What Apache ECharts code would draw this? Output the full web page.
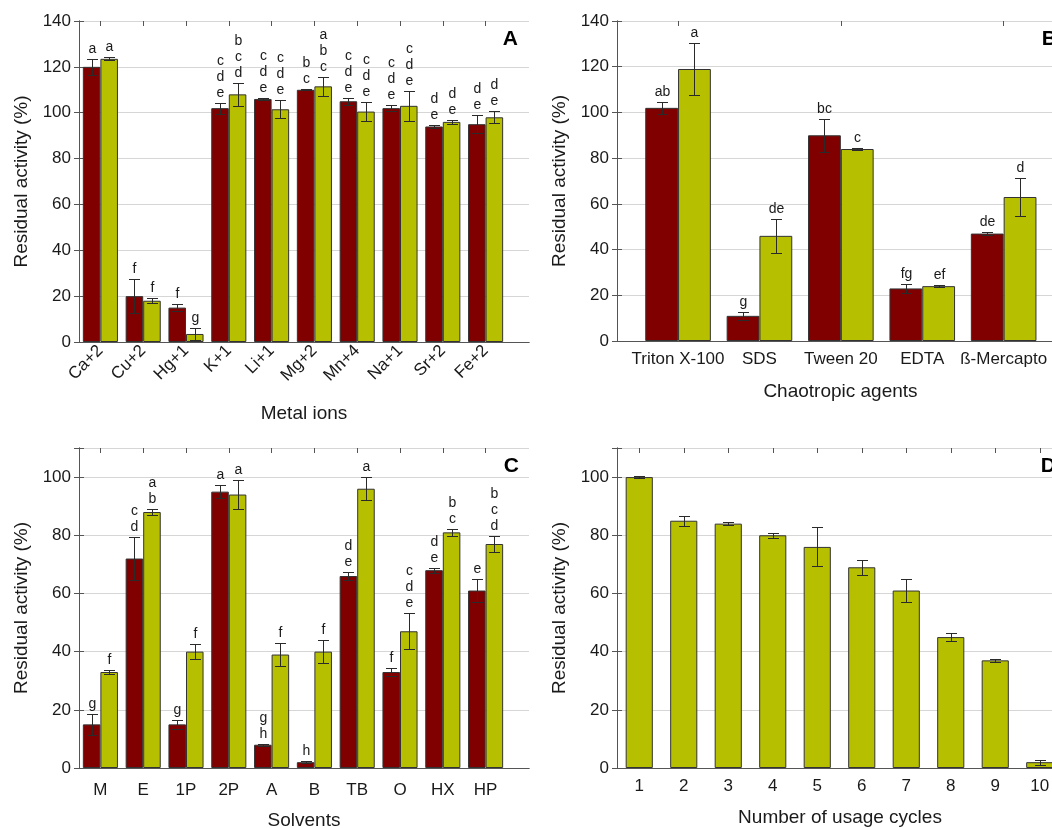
<!DOCTYPE html>
<html>
<head>
<meta charset="utf-8">
<script src="https://cdn.jsdelivr.net/npm/echarts@6/dist/echarts.min.js"></script>
<style>
html,body{margin:0;padding:0;background:#fff;}
#chart{width:1052px;height:828px;}
</style>
</head>
<body>
<div id="chart"></div>
<script>
// ---------- DATA ----------
var metalIons = ['Ca+2','Cu+2','Hg+1','K+1','Li+1','Mg+2','Mn+4','Na+1','Sr+2','Fe+2'];
var metalFree = [120, 20, 15, 102, 106, 110, 105, 102, 94, 95];
var metalFreeErr = [3.5, 7.5, 1.5, 2.4, 0.4, 0.3, 1.6, 1.3, 0.8, 3.9];
var metalFreeLetters = ['a','f','f','c\nd\ne','c\nd\ne','b\nc','c\nd\ne','c\nd\ne','d\ne','d\ne'];
var metalImm = [123.5, 18, 3.5, 108, 101.5, 111.5, 100.5, 103, 96, 98];
var metalImmErr = [0.6, 1, 2.7, 5, 4, 4.2, 4, 6.4, 1, 2.7];
var metalImmLetters = ['a','f','g','b\nc\nd','c\nd\ne','a\nb\nc','c\nd\ne','c\nd\ne','d\ne','d\ne'];

var agents = ['Triton X-100','SDS','Tween 20','EDTA','ß-Mercapto'];
var agentFree = [102, 11, 90, 23, 47];
var agentFreeErr = [2.5, 1.7, 7.3, 1.8, 0.8];
var agentFreeLetters = ['ab','g','bc','fg','de'];
var agentImm = [119, 46, 84, 24, 63];
var agentImmErr = [11.5, 7.3, 0.3, 0.3, 8.2];
var agentImmLetters = ['a','de','c','ef','d'];

var solvents = ['M','E','1P','2P','A','B','TB','O','HX','HP'];
var solvFree = [15, 72, 15, 95, 8, 2, 66, 33, 68, 61];
var solvFreeErr = [3.5, 7.5, 1.5, 2.2, 0.3, 0.3, 1.4, 1.3, 0.8, 4];
var solvFreeLetters = ['g','c\nd','g','a','g\nh','h','d\ne','f','d\ne','e'];
var solvImm = [33, 88, 40, 94, 39, 40, 96, 47, 81, 77];
var solvImmErr = [0.7, 1, 2.6, 5, 3.8, 4, 4, 6.2, 1.2, 2.7];
var solvImmLetters = ['f','a\nb','f','a','f','f','a','c\nd\ne','b\nc','b\nc\nd'];

var cycles = ['1','2','3','4','5','6','7','8','9','10'];
var cycleVals = [100, 85, 84, 80, 76, 69, 61, 45, 37, 2];
var cycleErr = [0.3, 1.7, 0.6, 0.8, 6.7, 2.5, 3.8, 1.5, 0.4, 0.8];

// ---------- STYLE ----------
var RED = '#800000', GREEN = '#b7c000';
var FONT = '"Liberation Sans", Arial, sans-serif';
var TXT = '#1a1a1a';
var FRAME = '#555';

var panels = [
  {frame:{left:79, top:21, width:450, height:321}, data:{left:79, width:428},
   cats: metalIons, ymax:140, rotate:45, labelMargin:6, xname:'Metal ions', xnameGap:62, gap:0.18,
   series:[[metalFree, metalFreeErr, metalFreeLetters],[metalImm, metalImmErr, metalImmLetters]], tag:'A', tagInset:11},
  {frame:{left:617, top:21, width:447, height:320}, data:{left:637.35, width:407},
   cats: agents, ymax:140, rotate:0, labelMargin:10, xname:'Chaotropic agents', xnameGap:41, gap:0.194,
   series:[[agentFree, agentFreeErr, agentFreeLetters],[agentImm, agentImmErr, agentImmLetters]], tag:'B', tagInset:7},
  {frame:{left:79, top:448, width:450, height:320}, data:{left:79, width:428},
   cats: solvents, ymax:110, rotate:0, labelMargin:14, xname:'Solvents', xnameGap:43, gap:0.18,
   series:[[solvFree, solvFreeErr, solvFreeLetters],[solvImm, solvImmErr, solvImmLetters]], tag:'C', tagInset:10},
  {frame:{left:617, top:448, width:446, height:320}, data:{left:617, width:445},
   cats: cycles, ymax:110, rotate:0, labelMargin:10, xname:'Number of usage cycles', xnameGap:40, gap:0.39,
   series:[[cycleVals, cycleErr, null]], tag:'D', single:true, tagInset:7}
];

function errRender(errs, letters, side, gap) {
  return function (params, api) {
    var i = params.dataIndex;
    var x = api.value(0), v = api.value(1);
    var e = errs[i];
    var band = api.size([1, 0])[0];
    var bw = band * (1 - gap) / (side === 0 ? 1 : 2);
    var dx = side * bw / 2;
    var t = api.coord([x, v + e]);
    var b = api.coord([x, v - e]);
    var cx = Math.round(t[0] + dx) + 0.5;
    var ty = Math.round(t[1]) + 0.5, by = Math.round(b[1]) + 0.5;
    var cap = 5.5;
    var st = {stroke: '#2a2a2a', lineWidth: 1};
    var ch = [
      {type:'line', shape:{x1:cx, y1:ty, x2:cx, y2:by}, style:st},
      {type:'line', shape:{x1:cx-cap, y1:ty, x2:cx+cap, y2:ty}, style:st},
      {type:'line', shape:{x1:cx-cap, y1:by, x2:cx+cap, y2:by}, style:st}
    ];
    if (letters) {
      ch.push({type:'text', style:{text:letters[i], x:cx, y:ty-2, align:'center', verticalAlign:'bottom',
        fontSize:14, lineHeight:16, fontFamily:FONT, fill:TXT}});
    }
    return {type:'group', children: ch};
  };
}

var grid = [], xAxis = [], yAxis = [], series = [], graphic = [];
panels.forEach(function (p, k) {
  var fg = grid.length;
  grid.push({left:p.frame.left, top:p.frame.top, width:p.frame.width, height:p.frame.height,
    containLabel:false, outerBoundsMode:'none'});
  var dg = grid.length;
  grid.push({left:p.data.left, top:p.frame.top, width:p.data.width, height:p.frame.height,
    containLabel:false, outerBoundsMode:'none'});
  var lineStyle = {color: FRAME, width: 1};
  // frame axes
  xAxis.push({type:'value', gridIndex:fg, min:0, max:1, position:'bottom',
    axisLine:{show:true, lineStyle:lineStyle}, axisTick:{show:false}, axisLabel:{show:false}, splitLine:{show:false},
    name:p.xname, nameLocation:'middle', nameGap:p.xnameGap,
    nameTextStyle:{fontSize:19, fontFamily:FONT, color:TXT}});
  xAxis.push({type:'value', gridIndex:fg, min:0, max:1, position:'top',
    axisLine:{show:true, lineStyle:lineStyle}, axisTick:{show:false}, axisLabel:{show:false}, splitLine:{show:false}});
  var xdb = xAxis.length;
  xAxis.push({type:'category', gridIndex:dg, data:p.cats, position:'bottom',
    axisLine:{show:false}, axisTick:{show:false},
    axisLabel:{fontSize:17, fontFamily:FONT, color:TXT, rotate:p.rotate, margin:p.labelMargin, interval:0}});
  xAxis.push({type:'category', gridIndex:dg, data:p.cats, position:'top',
    axisLine:{show:false}, axisTick:{show:true, inside:true, length:5, alignWithLabel:true, lineStyle:{color:FRAME}},
    axisLabel:{show:false}});
  var lim = p.ymax === 110 ? 100 : 140;
  var fmt = function (v) { return v > lim ? '' : v; };
  yAxis.push({type:'value', gridIndex:fg, min:0, max:p.ymax, interval:20, position:'left',
    axisLine:{show:true, lineStyle:lineStyle},
    axisTick:{show:true, inside:true, length:5, lineStyle:{color:FRAME}},
    axisLabel:{fontSize:17, fontFamily:FONT, color:TXT, margin:8, formatter:fmt},
    splitLine:{show:true, lineStyle:{color:'#d6d6d6', width:1}},
    name:'Residual activity (%)', nameLocation:'middle', nameGap:48,
    nameTextStyle:{fontSize:19, fontFamily:FONT, color:TXT}});
  yAxis.push({type:'value', gridIndex:fg, min:0, max:p.ymax, interval:20, position:'right',
    axisLine:{show:true, lineStyle:lineStyle},
    axisTick:{show:true, inside:true, length:5, lineStyle:{color:FRAME}},
    axisLabel:{show:false}, splitLine:{show:false}});
  var ydb = yAxis.length;
  yAxis.push({type:'value', gridIndex:dg, min:0, max:p.ymax, show:false});

  p.series.forEach(function (s, j) {
    var color = p.single ? GREEN : (j === 0 ? RED : GREEN);
    series.push({type:'bar', xAxisIndex:xdb, yAxisIndex:ydb, data:s[0],
      barGap:'0%', barCategoryGap:(p.gap*100)+'%',
      itemStyle:{color:color, borderColor:'#333', borderWidth:1}, z:2});
  });
  p.series.forEach(function (s, j) {
    var side = p.single ? 0 : (j === 0 ? -1 : 1);
    series.push({type:'custom', xAxisIndex:xdb, yAxisIndex:ydb, z:5,
      data:s[0].map(function (v, i) { return [i, v]; }),
      renderItem: errRender(s[1], s[2], side, p.gap)});
  });
  graphic.push({type:'text', x:p.frame.left + p.frame.width - p.tagInset, y:p.frame.top + 18,
    style:{text:p.tag, align:'right', verticalAlign:'middle', font:'bold 21px ' + FONT, fill:'#000'}});
});

var chart = echarts.init(document.getElementById('chart'), null, {renderer:'canvas'});
chart.setOption({animation:false, grid:grid, xAxis:xAxis, yAxis:yAxis, series:series, graphic:graphic});
</script>
</body>
</html>
